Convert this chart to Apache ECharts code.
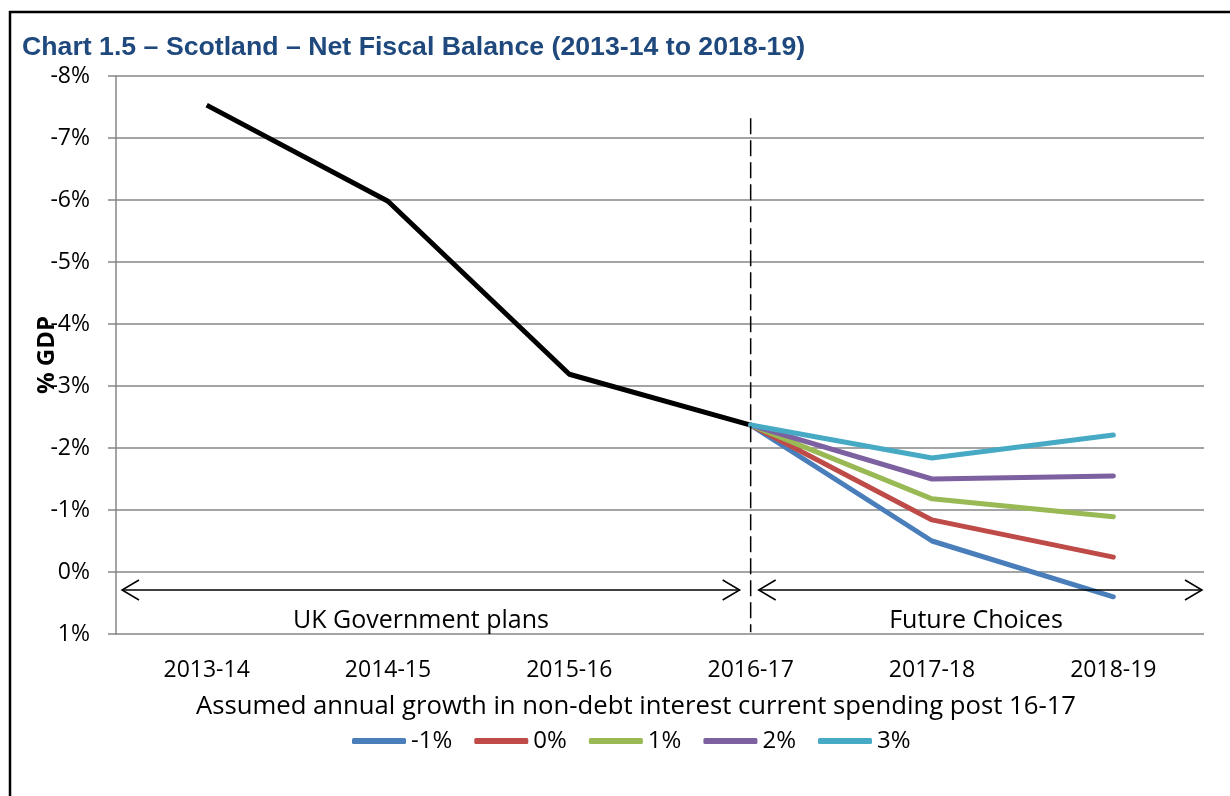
<!DOCTYPE html>
<html>
<head>
<meta charset="utf-8">
<script src="https://cdn.jsdelivr.net/npm/echarts@6/dist/echarts.min.js"></script>
<style>
  html, body { margin: 0; padding: 0; background: #fff; }
  #chart { width: 1230px; height: 796px; }
</style>
</head>
<body>
<div id="chart"></div>
<script>
// Fiscal years on the category axis
var years = ['2013-14', '2014-15', '2015-16', '2016-17', '2017-18', '2018-19'];

// Net fiscal balance, % of GDP (deficits negative), UK Government plans
var planned = [-7.53, -5.98, -3.19, -2.37, '-', '-'];

// Future choices by assumed annual growth in non-debt interest current spending
var growthNames = ['-1%', '0%', '1%', '2%', '3%'];
var growthMinus1 = ['-', '-', '-', -2.37, -0.50, 0.40];
var growth0 = ['-', '-', '-', -2.37, -0.84, -0.24];
var growth1 = ['-', '-', '-', -2.37, -1.18, -0.89];
var growth2 = ['-', '-', '-', -2.37, -1.50, -1.55];
var growth3 = ['-', '-', '-', -2.37, -1.84, -2.21];

var growthColors = ['#4A7EBB', '#BE4B48', '#98B954', '#7D60A0', '#46AAC5'];
var growthData = [growthMinus1, growth0, growth1, growth2, growth3];

var bodyFont = 'Open Sans';
var numSize = 23;
var textSize = 25;
var chart = echarts.init(document.getElementById('chart'));

var series = [{
  name: 'UK Government plans',
  type: 'line',
  data: planned,
  showSymbol: false,
  lineStyle: { color: '#000', width: 5 },
  itemStyle: { color: '#000' },
  z: 3
}];
growthNames.forEach(function (n, i) {
  series.push({
    name: n,
    type: 'line',
    data: growthData[i],
    showSymbol: false,
    lineStyle: { color: growthColors[i], width: 5, cap: 'round' },
    itemStyle: { color: growthColors[i] },
    z: 4 + i
  });
});

chart.setOption({
  animation: false,
  backgroundColor: '#fff',
  title: {
    text: 'Chart 1.5 \u2013 Scotland \u2013 Net Fiscal Balance (2013-14 to 2018-19)',
    left: 17,
    top: 29,
    textStyle: { fontFamily: 'Liberation Sans', fontWeight: 'bold', fontSize: 26.7, color: '#1F497D' }
  },
  legend: {
    data: growthNames,
    bottom: 38,
    left: 347,
    itemWidth: 54,
    itemHeight: 6,
    itemGap: 22,
    icon: 'roundRect',
    textStyle: { fontFamily: bodyFont, fontSize: 24, color: '#000' }
  },
  grid: { left: 116, right: 26, top: 76, bottom: 162 },
  xAxis: {
    type: 'category',
    data: years,
    boundaryGap: true,
    axisLine: { show: false },
    axisTick: { show: false },
    axisLabel: { fontFamily: bodyFont, fontSize: numSize, color: '#000', margin: 25 },
    name: 'Assumed annual growth in non-debt interest current spending post 16-17',
    nameLocation: 'middle',
    nameGap: 60,
    nameTextStyle: { fontFamily: bodyFont, fontSize: 25.7, color: '#000', padding: [0, 48, 0, 0] }
  },
  yAxis: {
    type: 'value',
    min: -8,
    max: 1,
    interval: 1,
    inverse: true,
    axisLine: { show: true, lineStyle: { color: '#868686', width: 1.5 } },
    axisTick: { show: true, length: 8, lineStyle: { color: '#868686', width: 1.5 } },
    splitLine: { lineStyle: { color: '#868686', width: 1.5 } },
    axisLabel: {
      fontFamily: bodyFont, fontSize: numSize, color: '#000', margin: 26,
      formatter: function (v) { return v + '%'; }
    },
    name: '% GDP',
    nameLocation: 'middle',
    nameMoveOverlap: false,
    nameGap: 57,
    nameRotate: 90,
    nameTextStyle: { fontFamily: bodyFont, fontWeight: 'bold', fontSize: 24, color: '#000' }
  },
  series: series
});

// Annotation layer: frame, period divider, range arrows and their captions
function px(cat, val) { return chart.convertToPixel({ gridIndex: 0 }, [cat, val]); }
var divTop = px('2016-17', -7.32);
var divBot = px('2016-17', 0.97);
var arrowY = px('2013-14', 0.29)[1];
var capY = px('2013-14', 0.79)[1];
var xLeft = 122, xMidL = divTop[0] - 11, xMidR = divTop[0] + 8, xRight = 1202;

function head(x, y, dir) {
  return {
    type: 'polyline',
    shape: { points: [[x + dir * 17, y - 10], [x, y], [x + dir * 17, y + 10]] },
    style: { stroke: '#000', lineWidth: 1.5, fill: null },
    z: 10
  };
}
function hline(x1, x2, y) {
  return {
    type: 'line', shape: { x1: x1, y1: y, x2: x2, y2: y },
    style: { stroke: '#000', lineWidth: 1.5 }, z: 10
  };
}
var capFont = textSize + 'px "' + bodyFont + '"';

chart.setOption({
  graphic: [
    { type: 'line', shape: { x1: 9, y1: 12, x2: 1230, y2: 12 }, style: { stroke: '#000', lineWidth: 2.5 } },
    { type: 'line', shape: { x1: 10, y1: 11, x2: 10, y2: 796 }, style: { stroke: '#000', lineWidth: 2.5 } },
    {
      type: 'line',
      shape: { x1: divTop[0], y1: divTop[1], x2: divBot[0], y2: divBot[1] },
      style: { stroke: '#000', lineWidth: 1.5, lineDash: [16, 6] },
      z: 10
    },
    hline(xLeft, xMidL, arrowY), head(xLeft, arrowY, 1), head(xMidL, arrowY, -1),
    hline(xMidR, xRight, arrowY), head(xMidR, arrowY, 1), head(xRight, arrowY, -1),
    {
      type: 'text', x: 421, y: capY,
      style: { text: 'UK Government plans', font: capFont, fill: '#000', align: 'center', verticalAlign: 'middle' },
      z: 10
    },
    {
      type: 'text', x: 976, y: capY,
      style: { text: 'Future Choices', font: capFont, fill: '#000', align: 'center', verticalAlign: 'middle' },
      z: 10
    }
  ]
});
</script>
</body>
</html>
